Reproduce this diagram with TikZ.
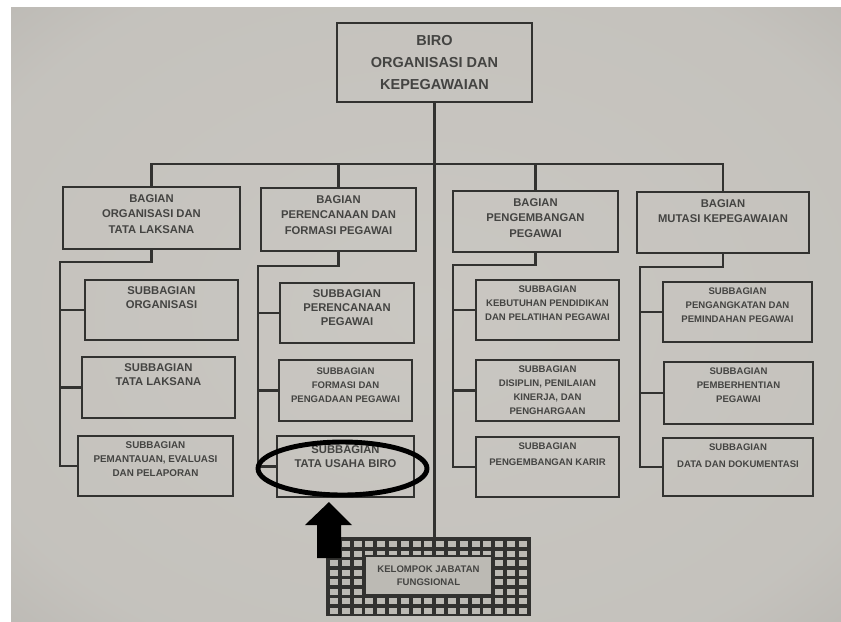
\documentclass[tikz,border=0pt]{standalone}
\usepackage{fontspec}
\setmainfont{Liberation Sans}
\usetikzlibrary{positioning,shapes.geometric}
\pgfdeclareradialshading{paperglow}{\pgfpoint{0bp}{0bp}}{rgb(0bp)=(0.79,0.78,0.76); rgb(30bp)=(0.77,0.76,0.74); rgb(50bp)=(0.67,0.66,0.64); rgb(72bp)=(0.58,0.57,0.55)}
\definecolor{ink}{RGB}{50,50,48}
\definecolor{txtgray}{RGB}{68,68,66}
\definecolor{cellgray}{RGB}{188,186,180}

\begin{document}
\begin{tikzpicture}[x=0.025cm, y=-0.025cm,
    sz/.style 2 args={minimum width=#1*0.025cm, minimum height=#2*0.025cm},
    box/.style={draw=ink, line width=1.8pt, inner sep=0pt},
    link/.style={draw=ink, line width=1.8pt},
    head/.style={inner sep=0pt, align=center, text=txtgray, font=\bfseries\fontsize{8}{11}\selectfont},
    big/.style={inner sep=0pt, align=center, text=txtgray, font=\bfseries\fontsize{8}{10}\selectfont},
    small/.style={inner sep=0pt, align=center, text=txtgray, font=\bfseries\fontsize{6.8}{10}\selectfont}]

    \useasboundingbox (0,0) rectangle (841,621);
    \fill[white] (0,0) rectangle (841,621);
    \shade[shading=paperglow] (11,7) rectangle (841,621);

    % biro
    \node[box, sz={195}{79}, align=center, text=txtgray, font=\bfseries\fontsize{10.3}{15.6}\selectfont] (top) at (434.5,62.5) {BIRO\\ORGANISASI DAN\\KEPEGAWAIAN};

    % bagian
    \node[box, sz={177}{62}] (b1) at (151.5,218) {};
    \node[box, sz={155}{63}] (b2) at (338.5,219.5) {};
    \node[box, sz={165}{61}] (b3) at (535.5,221.5) {};
    \node[box, sz={172}{61}] (b4) at (723,222.5) {};
    \node[head, below=6pt of b1.north] (b1t) {BAGIAN\\ORGANISASI DAN\\TATA LAKSANA};
    \node[head, below=6pt of b2.north] (b2t) {BAGIAN\\PERENCANAAN DAN\\FORMASI PEGAWAI};
    \node[head, below=6pt of b3.north] (b3t) {BAGIAN\\PENGEMBANGAN\\PEGAWAI};
    \node[head, below=6pt of b4.north] (b4t) {BAGIAN\\MUTASI KEPEGAWAIAN};

    % subbagian
    \node[box, sz={153}{60}] (s11) at (161.5,310) {};
    \node[box, sz={153}{61}] (s12) at (158.5,387.5) {};
    \node[box, sz={155}{60}] (s13) at (155.5,466) {};
    \node[box, sz={134}{60}] (s21) at (347,313) {};
    \node[box, sz={133}{61}] (s22) at (345.5,390.5) {};
    \node[box, sz={137}{61}] (s23) at (345.5,466.5) {};
    \node[box, sz={143}{60}] (s31) at (547.5,310) {};
    \node[box, sz={143}{61}] (s32) at (547.5,390.5) {};
    \node[box, sz={143}{60}] (s33) at (547.5,467) {};
    \node[box, sz={149}{60}] (s41) at (737.5,312) {};
    \node[box, sz={149}{62}] (s42) at (738.5,393) {};
    \node[box, sz={150}{58}] (s43) at (738,467) {};

    \node[big, below=5.6pt of s11.north] (s11t) {SUBBAGIAN\\ORGANISASI};
    \node[big, below=5.2pt of s12.north] (s12t) {SUBBAGIAN\\TATA LAKSANA};
    \node[small, below=4.6pt of s13.north, font=\bfseries\fontsize{7}{10}\selectfont] (s13t) {SUBBAGIAN\\PEMANTAUAN, EVALUASI\\DAN PELAPORAN};
    \node[big, below=5.2pt of s21.north] (s21t) {SUBBAGIAN\\PERENCANAAN\\PEGAWAI};
    \node[small, below=6pt of s22.north] (s22t) {SUBBAGIAN\\FORMASI DAN\\PENGADAAN PEGAWAI};
    \node[big, below=7.6pt of s23.north] (s23t) {SUBBAGIAN\\TATA USAHA BIRO};
    \node[small, below=4.6pt of s31.north] (s31t) {SUBBAGIAN\\KEBUTUHAN PENDIDIKAN\\DAN PELATIHAN PEGAWAI};
    \node[small, below=4.6pt of s32.north] (s32t) {SUBBAGIAN\\DISIPLIN, PENILAIAN\\KINERJA, DAN\\PENGHARGAAN};
    \node[small, below=4.6pt of s33.north, font=\bfseries\fontsize{6.8}{11.5}\selectfont] (s33t) {SUBBAGIAN\\PENGEMBANGAN KARIR};
    \node[small, below=4.6pt of s41.north] (s41t) {SUBBAGIAN\\PENGANGKATAN DAN\\PEMINDAHAN PEGAWAI};
    \node[small, below=4.6pt of s42.north] (s42t) {SUBBAGIAN\\PEMBERHENTIAN\\PEGAWAI};
    \node[small, below=4.6pt of s43.north, font=\bfseries\fontsize{6.8}{12}\selectfont] (s43t) {SUBBAGIAN\\DATA DAN DOKUMENTASI};

    % kelompok jabatan fungsional
    \node[box, sz={203}{77}, fill=ink] (kjf) at (428.5,576.5) {};
    \foreach \i in {0,...,16}
        \foreach \j in {0,...,7}
            \fill[cellgray] (330+\i*11.8,541+\j*9.5) rectangle ++(8,6.2);
    \node[box, sz={127}{39}, fill=cellgray, align=center, text=txtgray, font=\bfseries\fontsize{6.8}{9.2}\selectfont] (kjft) at (428.5,575.5) {KELOMPOK JABATAN\\FUNGSIONAL};

    % garis
    \coordinate (bus) at (434.5,164);
    \draw[link] (top.south) -- (top.south |- kjf.north);
    \draw[link] (b1.north) |- (bus) -| (b4.north);
    \draw[link] (b2.north) -- (b2.north |- bus);
    \draw[link] (b3.north) -- (b3.north |- bus);

    \coordinate (k1) at (60,262);
    \draw[link] (b1.south) |- (k1) -- (k1 |- s13.west) -- (s13.west);
    \draw[link] (k1 |- s11.west) -- (s11.west);
    \draw[link] (k1 |- s12.west) -- (s12.west);

    \coordinate (k2) at (258,266);
    \draw[link] (b2.south) |- (k2) -- (k2 |- s23.west) -- (s23.west);
    \draw[link] (k2 |- s21.west) -- (s21.west);
    \draw[link] (k2 |- s22.west) -- (s22.west);

    \coordinate (k3) at (453,265);
    \draw[link] (b3.south) |- (k3) -- (k3 |- s33.west) -- (s33.west);
    \draw[link] (k3 |- s31.west) -- (s31.west);
    \draw[link] (k3 |- s32.west) -- (s32.west);

    \coordinate (k4) at (640,267);
    \draw[link] (b4.south) |- (k4) -- (k4 |- s43.west) -- (s43.west);
    \draw[link] (k4 |- s41.west) -- (s41.west);
    \draw[link] (k4 |- s42.west) -- (s42.west);

    % tanda
    \node[draw=black, ellipse, line width=3.5pt, inner sep=0pt, sz={169}{53}] (mark) at (342.5,468.5) {};
    \fill[black] (329,502) -- (352,525) -- (341,525) -- (341,558) -- (317,558) -- (317,525) -- (305,525) -- cycle;
\end{tikzpicture}
\end{document}
